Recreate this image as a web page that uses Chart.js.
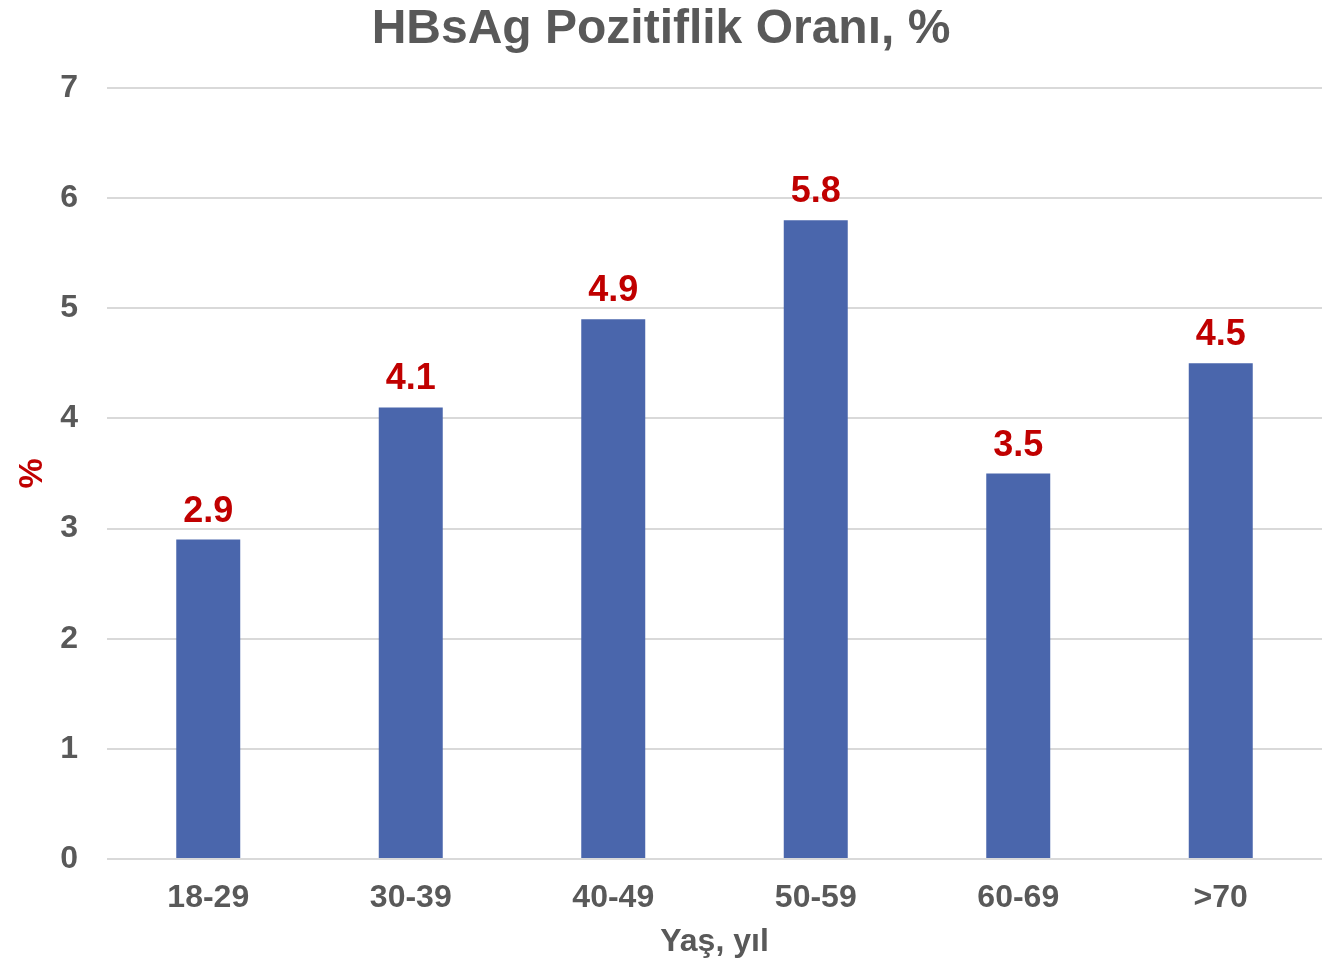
<!DOCTYPE html>
<html>
<head>
<meta charset="utf-8">
<script src="https://cdn.jsdelivr.net/npm/chart.js@4"></script>
<style>
html,body{margin:0;padding:0;background:#fff;}
#wrap{width:1340px;height:963px;position:relative;}
</style>
</head>
<body>
<div id="wrap"><canvas id="c" width="1340" height="963"></canvas></div>
<script>
const categories = ["18-29", "30-39", "40-49", "50-59", "60-69", ">70"];
const values = [2.9, 4.1, 4.9, 5.8, 3.5, 4.5];
const yTicks = [0, 1, 2, 3, 4, 5, 6, 7];

const FONT = "'Liberation Sans', Arial, sans-serif";
const GRAY = "#595959";
const RED = "#C00000";

const valueLabels = {
  id: 'valueLabels',
  afterDatasetsDraw(chart) {
    const ctx = chart.ctx;
    ctx.save();
    ctx.font = "bold 36px " + FONT;
    ctx.fillStyle = RED;
    ctx.textAlign = 'center';
    ctx.textBaseline = 'alphabetic';
    chart.getDatasetMeta(0).data.forEach((el, i) => {
      ctx.fillText(values[i].toFixed(1), el.x, el.y - 18);
    });
    ctx.restore();
  }
};

new Chart(document.getElementById('c'), {
  type: 'bar',
  data: {
    labels: categories,
    datasets: [{
      data: values,
      backgroundColor: '#4A66AC',
      categoryPercentage: 1,
      barPercentage: 0.316
    }]
  },
  options: {
    responsive: false,
    animation: false,
    layout: { padding: { left: 0, right: 18, top: 0, bottom: 0 } },
    plugins: {
      legend: { display: false },
      tooltip: { enabled: false },
      title: {
        display: true,
        text: 'HBsAg Pozitiflik Oranı, %',
        color: GRAY,
        font: { family: FONT, size: 48, weight: 'bold' },
        padding: { top: 1, bottom: 29.4 }
      }
    },
    scales: {
      x: {
        grid: { display: false, drawTicks: false },
        border: { display: false },
        ticks: { color: GRAY, font: { family: FONT, size: 32, weight: 'bold' }, padding: 20 },
        title: {
          display: true, text: 'Yaş, yıl', color: GRAY,
          font: { family: FONT, size: 32, weight: 'bold' },
          padding: { top: 0, bottom: 2 }
        },
        afterFit(scale) { scale.height = 104; }
      },
      y: {
        min: 0, max: 7,
        afterBuildTicks(scale) { scale.ticks = yTicks.map(v => ({ value: v })); },
        grid: { color: '#D9D9D9', lineWidth: 2, drawTicks: false },
        border: { display: false },
        ticks: { color: GRAY, font: { family: FONT, size: 32, weight: 'bold' }, padding: 29 },
        title: {
          display: true, text: '%', color: RED,
          font: { family: FONT, size: 34, weight: 'bold' },
          padding: { top: 12.6, bottom: 0 }
        },
        afterFit(scale) { scale.width = 107; }
      }
    }
  },
  plugins: [valueLabels]
});
</script>
</body>
</html>
